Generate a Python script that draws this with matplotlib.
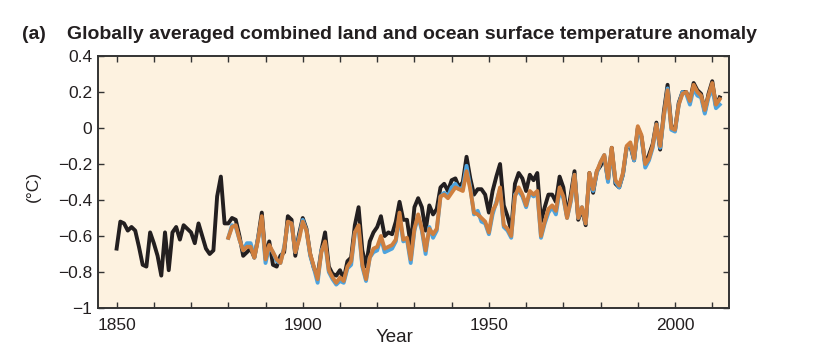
import numpy as np
import matplotlib
matplotlib.use('agg')
import matplotlib.pyplot as plt
from matplotlib.ticker import MultipleLocator

# annual anomalies (degC, relative to 1986-2005)
years_black = list(range(1850, 2013))
black = [
    -0.67, -0.52, -0.53, -0.57, -0.55, -0.57, -0.66, -0.76, -0.77, -0.58,
    -0.64, -0.71, -0.82, -0.58, -0.79, -0.58, -0.55, -0.62, -0.54, -0.56,
    -0.58, -0.64, -0.53, -0.60, -0.67, -0.70, -0.68, -0.38, -0.27, -0.53,
    -0.53, -0.50, -0.51, -0.60, -0.71, -0.69, -0.67, -0.72, -0.61, -0.47,
    -0.72, -0.63, -0.76, -0.77, -0.71, -0.69, -0.49, -0.51, -0.71, -0.59,
    -0.50, -0.56, -0.70, -0.78, -0.82, -0.68, -0.58, -0.77, -0.81, -0.82,
    -0.79, -0.84, -0.74, -0.72, -0.54, -0.44, -0.68, -0.77, -0.63, -0.58,
    -0.55, -0.49, -0.60, -0.58, -0.59, -0.52, -0.41, -0.51, -0.51, -0.65,
    -0.44, -0.39, -0.44, -0.57, -0.43, -0.48, -0.45, -0.33, -0.31, -0.35,
    -0.29, -0.28, -0.33, -0.30, -0.16, -0.28, -0.37, -0.34, -0.34, -0.37,
    -0.47, -0.35, -0.27, -0.20, -0.43, -0.49, -0.57, -0.31, -0.25, -0.28,
    -0.35, -0.26, -0.29, -0.25, -0.52, -0.44, -0.37, -0.37, -0.41, -0.27,
    -0.33, -0.49, -0.37, -0.24, -0.51, -0.45, -0.54, -0.25, -0.36, -0.24,
    -0.21, -0.16, -0.29, -0.11, -0.31, -0.33, -0.26, -0.11, -0.10, -0.18,
    0.00, -0.05, -0.20, -0.15, -0.09, 0.03, -0.12, 0.09, 0.24, 0.01,
    -0.01, 0.14, 0.20, 0.20, 0.15, 0.25, 0.21, 0.19, 0.09, 0.19,
    0.26, 0.12, 0.17,
]

years_short = list(range(1880, 2013))
blue = [
    -0.61, -0.54, -0.55, -0.62, -0.68, -0.64, -0.64, -0.72, -0.61, -0.51,
    -0.75, -0.66, -0.69, -0.74, -0.75, -0.66, -0.53, -0.53, -0.69, -0.61,
    -0.51, -0.57, -0.71, -0.78, -0.86, -0.68, -0.64, -0.80, -0.84, -0.87,
    -0.85, -0.86, -0.78, -0.76, -0.58, -0.56, -0.77, -0.85, -0.72, -0.69,
    -0.68, -0.61, -0.69, -0.68, -0.67, -0.63, -0.49, -0.63, -0.62, -0.75,
    -0.57, -0.49, -0.57, -0.70, -0.55, -0.61, -0.57, -0.38, -0.36, -0.38,
    -0.33, -0.31, -0.34, -0.33, -0.21, -0.33, -0.48, -0.46, -0.52, -0.53,
    -0.59, -0.48, -0.41, -0.34, -0.55, -0.57, -0.61, -0.37, -0.35, -0.38,
    -0.44, -0.36, -0.38, -0.36, -0.61, -0.53, -0.47, -0.44, -0.48, -0.35,
    -0.39, -0.50, -0.41, -0.26, -0.50, -0.44, -0.53, -0.26, -0.35, -0.25,
    -0.19, -0.15, -0.30, -0.12, -0.30, -0.33, -0.26, -0.11, -0.09, -0.18,
    -0.01, -0.05, -0.22, -0.18, -0.11, 0.02, -0.11, 0.06, 0.22, -0.01,
    -0.02, 0.13, 0.20, 0.19, 0.13, 0.22, 0.18, 0.17, 0.08, 0.17,
    0.22, 0.11, 0.13,
]
orange = [
    -0.61, -0.55, -0.54, -0.62, -0.68, -0.66, -0.66, -0.72, -0.62, -0.49,
    -0.73, -0.65, -0.69, -0.73, -0.75, -0.67, -0.52, -0.53, -0.69, -0.62,
    -0.52, -0.57, -0.70, -0.77, -0.84, -0.69, -0.63, -0.79, -0.83, -0.86,
    -0.83, -0.85, -0.77, -0.74, -0.58, -0.54, -0.76, -0.84, -0.72, -0.67,
    -0.66, -0.60, -0.67, -0.66, -0.65, -0.62, -0.47, -0.62, -0.61, -0.73,
    -0.56, -0.48, -0.56, -0.68, -0.56, -0.59, -0.56, -0.38, -0.37, -0.39,
    -0.36, -0.33, -0.34, -0.35, -0.24, -0.34, -0.47, -0.48, -0.50, -0.52,
    -0.58, -0.46, -0.42, -0.33, -0.54, -0.56, -0.60, -0.38, -0.33, -0.37,
    -0.43, -0.35, -0.37, -0.35, -0.60, -0.52, -0.45, -0.43, -0.46, -0.33,
    -0.38, -0.50, -0.40, -0.26, -0.50, -0.44, -0.53, -0.25, -0.34, -0.24,
    -0.19, -0.15, -0.28, -0.11, -0.29, -0.32, -0.25, -0.10, -0.08, -0.17,
    0.01, -0.04, -0.20, -0.17, -0.10, 0.02, -0.10, 0.07, 0.21, 0.00,
    -0.01, 0.13, 0.19, 0.20, 0.15, 0.24, 0.20, 0.18, 0.10, 0.18,
    0.25, 0.13, 0.16,
]

y_ticks = [0.4, 0.2, 0, -0.2, -0.4, -0.6, -0.8, -1]
y_ticklabels = ['0.4', '0.2', '0', '\u22120.2', '\u22120.4', '\u22120.6', '\u22120.8', '\u22121']

BG = '#fdf2e0'
TXT = '#231f20'
tick_font = ['Liberation Sans', 'DejaVu Sans']
title_font = ['Liberation Sans', 'DejaVu Sans']

fig = plt.figure(figsize=(8.15, 3.52), dpi=100)
ax = fig.add_axes([98 / 815, 1 - 308 / 352, (729 - 98) / 815, (308 - 56) / 352])
ax.set_facecolor(BG)

ax.plot(years_black, black, color='#231f20', lw=2.8, solid_joinstyle='round', zorder=3)
ax.plot(years_short, blue, color='#4da3de', lw=2.8, solid_joinstyle='round', zorder=4)
ax.plot(years_short, orange, color='#cf7f3e', lw=2.8, solid_joinstyle='round', zorder=5)

ax.set_xlim(1845, 2014.5)
ax.set_ylim(-1, 0.4)
ax.xaxis.set_major_locator(MultipleLocator(50))
ax.xaxis.set_minor_locator(MultipleLocator(10))
ax.set_yticks(y_ticks)
ax.set_yticklabels(y_ticklabels)

ax.tick_params(which='both', direction='in', top=True, right=True, color='#333333', width=1.0)
ax.tick_params(which='major', length=4)
ax.tick_params(which='minor', length=4)
ax.tick_params(axis='x', which='major', pad=7)
ax.tick_params(axis='y', pad=4)
for lab in ax.get_xticklabels() + ax.get_yticklabels():
    lab.set_family(tick_font)
    lab.set_fontsize(12.5)
    lab.set_color(TXT)
for sp in ax.spines.values():
    sp.set_linewidth(1.4)
    sp.set_color('#333333')

fig.text(395 / 815, 1 - 338 / 352, 'Year', ha='center', va='center',
         fontsize=13.5, family=tick_font, color=TXT)
fig.text(33 / 815, 1 - 187 / 352, '(\u00b0C)', ha='center', va='center', rotation=90,
         fontsize=12.5, family=tick_font, color=TXT)

fig.text(22 / 815, 1 - 39 / 352, '(a)', ha='left', va='baseline',
         fontsize=14, fontweight='bold', family=title_font, color=TXT)
fig.text(67 / 815, 1 - 39 / 352,
         'Globally averaged combined land and ocean surface temperature anomaly',
         ha='left', va='baseline', fontsize=14, fontweight='bold',
         family=title_font, color=TXT)

fig.savefig('out.png', dpi=100, facecolor='white')
